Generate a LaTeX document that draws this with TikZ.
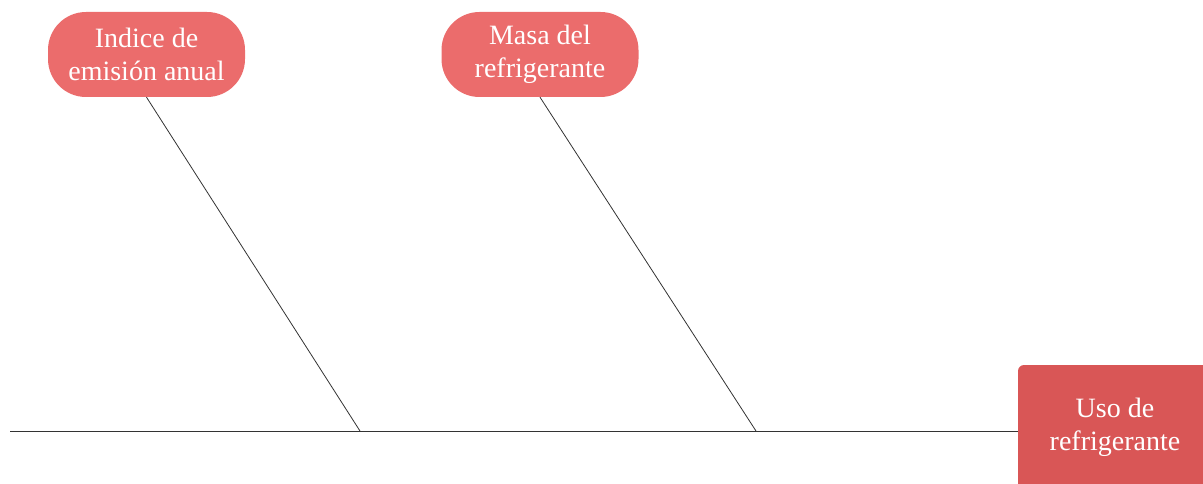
\documentclass[tikz,border=0pt]{standalone}
\usepackage{fontspec}
\setmainfont{Liberation Serif}
\usetikzlibrary{positioning}

\definecolor{causa}{RGB}{235,108,108}
\definecolor{efecto}{RGB}{217,86,86}

\begin{document}
\begin{tikzpicture}[x=1pt,y=-1pt,font=\fontsize{28}{33}\selectfont,
  causa/.style={fill=causa,text=white,rounded corners=38pt,minimum width=197pt,minimum height=85pt,align=center,inner sep=0pt},
  efecto/.style={fill=efecto,text=white,rounded corners=6pt,minimum width=194pt,minimum height=124pt,align=center,inner sep=0pt},
  espina/.style={draw=black!80,line width=0.8pt}]
 \useasboundingbox (0,0) rectangle (1203,484);
 \clip (0,0) rectangle (1203,484);

 % Efecto
 \node[efecto] (uso) at (1115,427) {Uso de\\refrigerante};
 \coordinate (cola) at (10,431);
 \coordinate (E1) at (360,431);
 \coordinate (E2) at (756,431);

 % Causas
 \node[causa] (indice) at (146.5,54.5) {Indice de\\emisión anual};
 \node[causa] (masa) at (540,54.5) {Masa del\\refrigerante};

 % Espina central
 \draw[espina] (cola) -- (uso.west |- cola);
 \draw[espina] (indice.south) -- (E1);
 \draw[espina] (masa.south) -- (E2);
\end{tikzpicture}
\end{document}
